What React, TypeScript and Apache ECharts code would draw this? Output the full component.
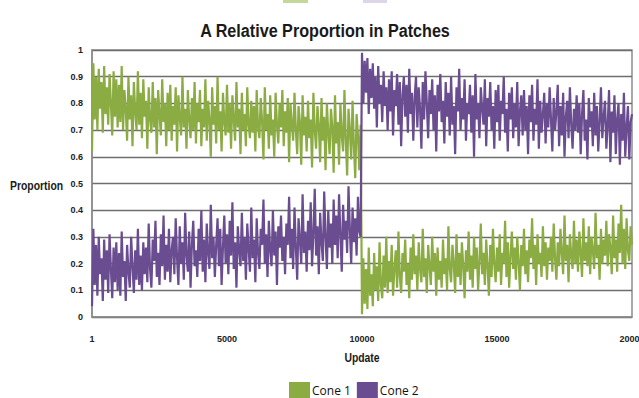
import React, { useEffect, useRef } from "react";
import * as echarts from "echarts";

// Sampling step along the Update axis (one reading every 50 updates).
const STEP = 50;
const X_TICKS = [0, 5000, 10000, 15000, 20000];
const Y_MAX = 1;
const Y_INTERVAL = 0.1;
const SERIES_NAMES = ["Cone 1", "Cone 2"];
const TITLE = "A Relative Proportion in Patches";
const X_NAME = "Update";
const Y_NAME = "Proportion";

// Cone 1 relative proportion, updates 1 .. 20000
const cone1: number[] = [
  0.62, 0.95, 0.74, 0.90, 0.70, 0.93, 0.78, 0.88, 0.69, 0.94, 0.76, 0.86, 0.72, 0.91, 0.80, 0.68, 0.92, 0.75, 0.89, 0.71,
  0.87, 0.73, 0.94, 0.70, 0.85, 0.78, 0.66, 0.90, 0.74, 0.83, 0.64, 0.88, 0.77, 0.70, 0.92, 0.72, 0.84, 0.67, 0.89, 0.75,
  0.81, 0.63, 0.86, 0.74, 0.69, 0.88, 0.71, 0.82, 0.61, 0.85, 0.76, 0.68, 0.89, 0.73, 0.80, 0.64, 0.84, 0.70, 0.87, 0.66,
  0.79, 0.72, 0.86, 0.62, 0.83, 0.75, 0.68, 0.90, 0.71, 0.78, 0.63, 0.85, 0.74, 0.67, 0.82, 0.70, 0.88, 0.65, 0.80, 0.73,
  0.85, 0.64, 0.78, 0.71, 0.89, 0.66, 0.81, 0.74, 0.60, 0.86, 0.72, 0.79, 0.65, 0.90, 0.70, 0.77, 0.62, 0.84, 0.73, 0.68,
  0.87, 0.69, 0.80, 0.63, 0.83, 0.74, 0.66, 0.88, 0.71, 0.78, 0.61, 0.84, 0.70, 0.76, 0.64, 0.86, 0.72, 0.67, 0.81, 0.69,
  0.79, 0.62, 0.85, 0.71, 0.67, 0.82, 0.73, 0.59, 0.86, 0.70, 0.76, 0.63, 0.83, 0.68, 0.74, 0.60, 0.84, 0.72, 0.65, 0.80,
  0.71, 0.85, 0.64, 0.77, 0.69, 0.82, 0.58, 0.80, 0.72, 0.66, 0.84, 0.70, 0.61, 0.79, 0.73, 0.57, 0.83, 0.68, 0.75, 0.62,
  0.81, 0.67, 0.74, 0.56, 0.84, 0.70, 0.63, 0.79, 0.72, 0.58, 0.82, 0.66, 0.75, 0.55, 0.80, 0.69, 0.61, 0.78, 0.71, 0.54,
  0.83, 0.65, 0.73, 0.57, 0.80, 0.68, 0.62, 0.85, 0.66, 0.53, 0.78, 0.70, 0.59, 0.81, 0.64, 0.52, 0.76, 0.68, 0.55, 0.72,
  0.01, 0.22, 0.05, 0.18, 0.03, 0.26, 0.08, 0.16, 0.04, 0.24, 0.10, 0.19, 0.06, 0.28, 0.12, 0.07, 0.23, 0.11, 0.30, 0.09,
  0.21, 0.13, 0.27, 0.08, 0.18, 0.25, 0.11, 0.32, 0.15, 0.09, 0.24, 0.17, 0.29, 0.12, 0.20, 0.07, 0.26, 0.14, 0.31, 0.16,
  0.23, 0.10, 0.28, 0.18, 0.13, 0.33, 0.15, 0.22, 0.09, 0.27, 0.19, 0.12, 0.30, 0.17, 0.24, 0.08, 0.26, 0.14, 0.21, 0.11,
  0.29, 0.16, 0.22, 0.10, 0.34, 0.18, 0.13, 0.27, 0.20, 0.09, 0.31, 0.15, 0.24, 0.12, 0.28, 0.19, 0.07, 0.25, 0.17, 0.32,
  0.14, 0.23, 0.11, 0.30, 0.18, 0.26, 0.10, 0.21, 0.35, 0.16, 0.24, 0.12, 0.29, 0.19, 0.08, 0.27, 0.15, 0.33, 0.20, 0.13,
  0.26, 0.17, 0.31, 0.12, 0.24, 0.20, 0.36, 0.15, 0.28, 0.11, 0.23, 0.32, 0.18, 0.26, 0.14, 0.30, 0.21, 0.10, 0.27, 0.19,
  0.33, 0.16, 0.25, 0.13, 0.29, 0.22, 0.37, 0.18, 0.27, 0.12, 0.31, 0.20, 0.24, 0.15, 0.34, 0.19, 0.28, 0.14, 0.26, 0.21,
  0.30, 0.17, 0.35, 0.22, 0.14, 0.28, 0.19, 0.33, 0.24, 0.16, 0.38, 0.21, 0.27, 0.13, 0.31, 0.23, 0.18, 0.36, 0.20, 0.29,
  0.17, 0.32, 0.24, 0.15, 0.37, 0.21, 0.28, 0.19, 0.34, 0.16, 0.30, 0.25, 0.18, 0.39, 0.22, 0.27, 0.14, 0.33, 0.20, 0.29,
  0.23, 0.36, 0.19, 0.31, 0.26, 0.16, 0.38, 0.22, 0.29, 0.17, 0.35, 0.24, 0.42, 0.20, 0.33, 0.18, 0.37, 0.25, 0.21, 0.34,
  0.27,
];

// Cone 2 relative proportion, updates 1 .. 20000
const cone2: number[] = [
  0.04, 0.33, 0.12, 0.27, 0.08, 0.30, 0.16, 0.22, 0.06, 0.29, 0.14, 0.25, 0.09, 0.31, 0.18, 0.07, 0.26, 0.13, 0.28, 0.10,
  0.24, 0.08, 0.32, 0.15, 0.21, 0.06, 0.27, 0.17, 0.11, 0.30, 0.19, 0.09, 0.25, 0.14, 0.33, 0.12, 0.23, 0.10, 0.28, 0.16,
  0.26, 0.13, 0.35, 0.18, 0.11, 0.29, 0.21, 0.36, 0.15, 0.24, 0.12, 0.31, 0.19, 0.38, 0.14, 0.27, 0.17, 0.33, 0.13, 0.25,
  0.30, 0.16, 0.37, 0.22, 0.12, 0.34, 0.20, 0.28, 0.14, 0.39, 0.23, 0.17, 0.32, 0.11, 0.27, 0.36, 0.19, 0.25, 0.15, 0.33,
  0.21, 0.40, 0.17, 0.29, 0.13, 0.35, 0.24, 0.18, 0.42, 0.22, 0.30, 0.15, 0.27, 0.37, 0.19, 0.33, 0.12, 0.26, 0.38, 0.20,
  0.31, 0.16, 0.36, 0.23, 0.43, 0.18, 0.28, 0.11, 0.34, 0.25, 0.19, 0.39, 0.21, 0.30, 0.14, 0.35, 0.26, 0.17, 0.41, 0.22,
  0.29, 0.13, 0.37, 0.24, 0.18, 0.33, 0.27, 0.44, 0.20, 0.31, 0.15, 0.36, 0.25, 0.19, 0.40, 0.23, 0.32, 0.12, 0.34, 0.26,
  0.38, 0.21, 0.30, 0.16, 0.35, 0.27, 0.45, 0.22, 0.33, 0.18, 0.41, 0.26, 0.14, 0.37, 0.29, 0.20, 0.46, 0.24, 0.32, 0.17,
  0.36, 0.25, 0.43, 0.19, 0.31, 0.48, 0.23, 0.34, 0.16, 0.39, 0.28, 0.21, 0.47, 0.30, 0.18, 0.40, 0.26, 0.35, 0.20, 0.44,
  0.27, 0.38, 0.22, 0.46, 0.31, 0.17, 0.42, 0.29, 0.36, 0.24, 0.49, 0.33, 0.20, 0.41, 0.28, 0.37, 0.23, 0.45, 0.32, 0.30,
  0.99, 0.80, 0.96, 0.84, 0.97, 0.76, 0.93, 0.82, 0.95, 0.78, 0.90, 0.71, 0.94, 0.80, 0.87, 0.73, 0.92, 0.79, 0.86, 0.70,
  0.89, 0.77, 0.92, 0.68, 0.85, 0.79, 0.91, 0.72, 0.88, 0.64, 0.83, 0.90, 0.75, 0.87, 0.69, 0.93, 0.76, 0.84, 0.66, 0.82,
  0.90, 0.71, 0.86, 0.78, 0.63, 0.88, 0.74, 0.92, 0.80, 0.67, 0.85, 0.76, 0.89, 0.70, 0.83, 0.62, 0.87, 0.77, 0.91, 0.73,
  0.81, 0.65, 0.88, 0.75, 0.84, 0.68, 0.90, 0.72, 0.79, 0.61, 0.86, 0.77, 0.93, 0.70, 0.82, 0.74, 0.89, 0.66, 0.80, 0.76,
  0.87, 0.69, 0.83, 0.60, 0.91, 0.74, 0.80, 0.67, 0.86, 0.78, 0.72, 0.89, 0.64, 0.82, 0.75, 0.88, 0.70, 0.79, 0.63, 0.85,
  0.73, 0.87, 0.66, 0.81, 0.76, 0.90, 0.69, 0.78, 0.62, 0.84, 0.74, 0.86, 0.67, 0.80, 0.71, 0.88, 0.64, 0.77, 0.83, 0.68,
  0.85, 0.70, 0.79, 0.61, 0.83, 0.73, 0.87, 0.66, 0.78, 0.72, 0.89, 0.63, 0.81, 0.69, 0.76, 0.84, 0.65, 0.80, 0.71, 0.86,
  0.74, 0.62, 0.82, 0.70, 0.77, 0.87, 0.64, 0.79, 0.68, 0.84, 0.60, 0.75, 0.81, 0.67, 0.86, 0.72, 0.63, 0.78, 0.70, 0.83,
  0.69, 0.80, 0.61, 0.76, 0.85, 0.66, 0.74, 0.59, 0.82, 0.71, 0.77, 0.64, 0.84, 0.68, 0.79, 0.62, 0.73, 0.86, 0.67, 0.75,
  0.81, 0.63, 0.72, 0.85, 0.58, 0.77, 0.69, 0.83, 0.61, 0.74, 0.80, 0.57, 0.76, 0.66, 0.84, 0.60, 0.71, 0.79, 0.59, 0.73,
  0.76,
];

const GREEN = "#8bab43";
const PURPLE = "#6a4c91";
const SANS = "'Liberation Sans', Arial, sans-serif";

// Update number for each reading: the first reading is update 1.
const toPairs = (vals: number[]) =>
  vals.map((v, i) => [i === 0 ? 1 : i * STEP, v]);

// Bold heading text squeezed horizontally, in the style of a narrow face.
const narrowText = (
  text: string,
  x: number,
  y: number,
  size: number,
  align: "left" | "center" | "right",
  squeeze: number,
) => ({
  type: "text",
  x,
  y,
  scaleX: squeeze,
  style: {
    text,
    fontFamily: SANS,
    fontWeight: "bold",
    fontSize: size,
    fill: "#1a1a1a",
    align,
    verticalAlign: "middle",
  },
});

export default function App() {
  const ref = useRef<HTMLDivElement>(null);

  useEffect(() => {
    document.body.style.margin = "0";
    if (!ref.current) return;
    const chart = echarts.init(ref.current, undefined, { renderer: "svg" });
    chart.setOption({
      animation: false,
      backgroundColor: "#ffffff",
      grid: {
        left: 92,
        right: 7,
        top: 50,
        bottom: 81,
        outerBoundsMode: "none",
        show: true,
        borderColor: "#8c8c8c",
        borderWidth: 1.5,
        backgroundColor: "transparent",
      },
      legend: {
        data: SERIES_NAMES,
        left: 284,
        top: 377,
        icon: "rect",
        itemWidth: 21,
        itemHeight: 17,
        itemGap: 6,
        textStyle: {
          fontFamily: "'Open Sans', 'Liberation Sans', sans-serif",
          fontSize: 12,
          color: "#111",
          padding: [0, 0, 0, -3],
        },
      },
      xAxis: {
        type: "value",
        min: X_TICKS[0],
        max: X_TICKS[X_TICKS.length - 1],
        interval: X_TICKS[1] - X_TICKS[0],
        axisLine: { lineStyle: { color: "#8c8c8c", width: 1.5 } },
        axisTick: { show: false },
        splitLine: { show: false },
        axisLabel: {
          margin: 17,
          fontFamily: SANS,
          fontWeight: "bold",
          fontSize: 9,
          color: "#222",
          formatter: (v: number) => (v === 0 ? "1" : String(v)),
        },
      },
      yAxis: {
        type: "value",
        min: 0,
        max: Y_MAX,
        interval: Y_INTERVAL,
        axisLine: { show: true, lineStyle: { color: "#8c8c8c", width: 1.5 } },
        axisTick: { show: false },
        splitLine: { lineStyle: { color: "#6e6e6e", width: 1.3 } },
        axisLabel: {
          margin: 9,
          fontFamily: SANS,
          fontWeight: "bold",
          fontSize: 9,
          color: "#222",
          formatter: (v: number) => (v === 0 || v === 1 ? String(v) : v.toFixed(1)),
        },
      },
      graphic: [
        narrowText(TITLE, 325, 31, 19, "center", 0.85),
        narrowText(Y_NAME, 10, 185, 13, "left", 0.8),
        narrowText(X_NAME, 362, 357, 13, "center", 0.8),
        { type: "rect", shape: { x: 283, y: 0, width: 25, height: 3 }, style: { fill: "#c3d89a" } },
        { type: "rect", shape: { x: 363, y: 0, width: 24, height: 3 }, style: { fill: "#dcd6e8" } },
      ],
      series: [
        {
          name: SERIES_NAMES[0],
          type: "line",
          data: toPairs(cone1),
          showSymbol: false,
          symbol: "none",
          lineStyle: { color: GREEN, width: 2.2 },
          itemStyle: { color: GREEN },
        },
        {
          name: SERIES_NAMES[1],
          type: "line",
          data: toPairs(cone2),
          showSymbol: false,
          symbol: "none",
          lineStyle: { color: PURPLE, width: 2.2 },
          itemStyle: { color: PURPLE },
        },
      ],
    });
    return () => chart.dispose();
  }, []);

  return <div ref={ref} style={{ width: 639, height: 398 }} />;
}
